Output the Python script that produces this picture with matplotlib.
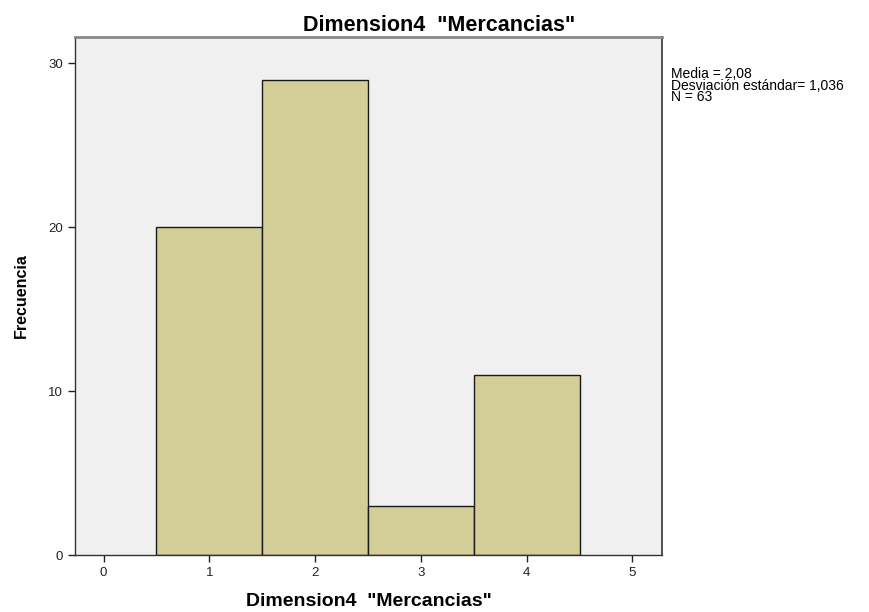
import matplotlib
matplotlib.use("Agg")
import matplotlib.pyplot as plt

plt.rcParams['font.family'] = ['Liberation Sans', 'DejaVu Sans']

categories = [1, 2, 3, 4]
frequencies = [20, 29, 3, 11]
x_ticks = [0, 1, 2, 3, 4, 5]
y_ticks = [0, 10, 20, 30]
title = 'Dimension4  "Mercancias"'
stats_text = "Media = 2,08\nDesviación estándar= 1,036\nN = 63"

fig = plt.figure(figsize=(8.69, 6.12), dpi=100)
ax = fig.add_axes([0.0863, 0.0931, 0.6755, 0.8464])
ax.set_facecolor('#F0F0F0')
ax.bar(categories, frequencies, width=1.0, color='#D3CE97', edgecolor='#1a1a1a', linewidth=1.0)
ax.set_xlim(-0.27, 5.28)
ax.set_ylim(0, 31.6)
ax.set_xticks(x_ticks)
ax.set_yticks(y_ticks)
ax.tick_params(axis='both', direction='out', length=5, width=1, labelsize=9.5, colors='#222222')
for s in ax.spines.values():
    s.set_color('#333333')
    s.set_linewidth(1.0)
ax.spines['top'].set_linewidth(2.0)
ax.spines['top'].set_color('#888888')
ax.spines['right'].set_linewidth(1.2)
fig.text(0.505, 0.959, title, fontsize=15.5, fontweight='bold', ha='center', va='center')
ax.set_xlabel(title, fontsize=14, fontweight='bold', labelpad=10)
ax.set_ylabel('Frecuencia', fontsize=11.5, fontweight='bold', labelpad=14)
fig.text(0.772, 0.891, stats_text, fontsize=10, va='top', ha='left', linespacing=0.8)
fig.savefig('out.png', dpi=100)
